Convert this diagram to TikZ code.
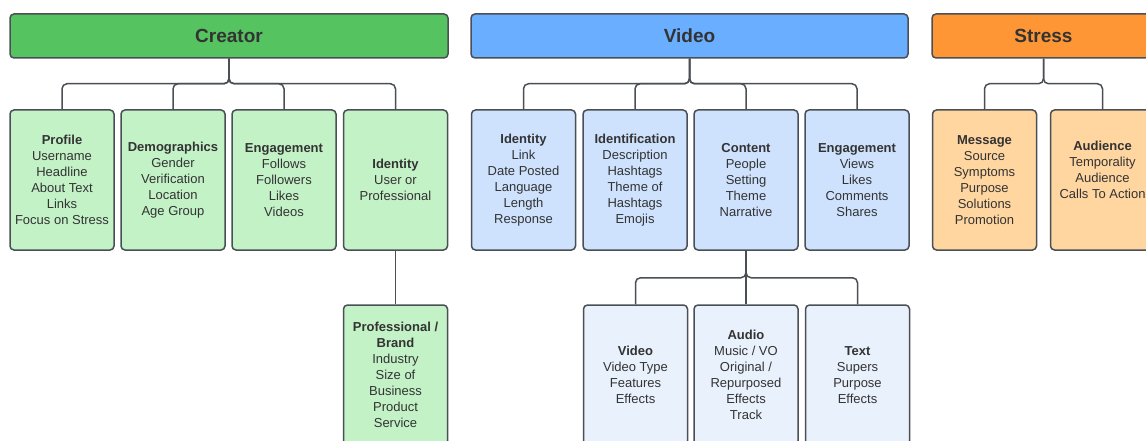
\documentclass[tikz,border=0pt]{standalone}
\usepackage{fontspec}
\setmainfont{Liberation Sans}
\definecolor{edge}{HTML}{4A4F55}
\definecolor{txt}{HTML}{333333}
\definecolor{creatorhdr}{HTML}{55C460}
\definecolor{creatorleaf}{HTML}{C3F2C7}
\definecolor{videohdr}{HTML}{6AAEFF}
\definecolor{videoleaf}{HTML}{CEE2FE}
\definecolor{videosub}{HTML}{E9F1FD}
\definecolor{stresshdr}{HTML}{FF9636}
\definecolor{stressleaf}{HTML}{FFD5A0}
\tikzset{
  base/.style={draw=edge, line width=1.5pt, rounded corners=4pt, text=txt,
    align=center, inner sep=0pt},
  hdr/.style={base, minimum height=44pt, font=\fontsize{19}{23}\selectfont\bfseries},
  leaf/.style={base, minimum width=104pt, minimum height=140pt,
    font=\fontsize{13}{16}\selectfont},
  link/.style={draw=edge, line width=1.5pt, rounded corners=5pt},
}
\begin{document}
\begin{tikzpicture}[x=1pt, y=-1pt]
\useasboundingbox (0,0) rectangle (1146,441);
\clip (0,0) rectangle (1146,441);
\fill[white] (0,0) rectangle (1146,441);

% ---- Creator ----
\node[hdr, fill=creatorhdr, minimum width=438pt] (creator) at (229,36) {Creator};
\node[leaf, fill=creatorleaf] (profile) at (62,180)
  {\textbf{Profile}\\Username\\Headline\\About Text\\Links\\Focus on Stress};
\node[leaf, fill=creatorleaf] (demo) at (173,180)
  {\textbf{Demographics}\\Gender\\Verification\\Location\\Age Group};
\node[leaf, fill=creatorleaf] (ceng) at (284,180)
  {\textbf{Engagement}\\Follows\\Followers\\Likes\\Videos};
\node[leaf, fill=creatorleaf] (cid) at (395.5,180)
  {\textbf{Identity}\\User or\\Professional};
\node[leaf, fill=creatorleaf] (brand) at (395.5,375)
  {\textbf{Professional /}\\\textbf{Brand}\\Industry\\Size of\\Business\\Product\\Service};

\foreach \c in {profile,demo,ceng,cid}
  \draw[link] (creator.south) -- ++(0,25) -| (\c.north);
\draw[link] (cid.south) -- (brand.north);

% ---- Video ----
\node[hdr, fill=videohdr, minimum width=437pt] (video) at (689.5,36) {Video};
\node[leaf, fill=videoleaf] (vid) at (523.5,180)
  {\textbf{Identity}\\Link\\Date Posted\\Language\\Length\\Response};
\node[leaf, fill=videoleaf] (vident) at (635,180)
  {\textbf{Identification}\\Description\\Hashtags\\Theme of\\Hashtags\\Emojis};
\node[leaf, fill=videoleaf] (content) at (746,180)
  {\textbf{Content}\\People\\Setting\\Theme\\Narrative};
\node[leaf, fill=videoleaf] (veng) at (857,180)
  {\textbf{Engagement}\\Views\\Likes\\Comments\\Shares};

\node[leaf, fill=videosub] (vvideo) at (635.5,375)
  {\textbf{Video}\\Video Type\\Features\\Effects};
\node[leaf, fill=videosub] (audio) at (746,375)
  {\textbf{Audio}\\Music / VO\\Original /\\Repurposed\\Effects\\Track};
\node[leaf, fill=videosub] (vtext) at (857.5,375)
  {\textbf{Text}\\Supers\\Purpose\\Effects};

\foreach \c in {vid,vident,content,veng}
  \draw[link] (video.south) -- ++(0,25) -| (\c.north);
\foreach \c in {vvideo,vtext}
  \draw[link] (content.south) -- ++(0,27) -| (\c.north);
\draw[link] (content.south) -- (audio.north);

% ---- Stress ----
\node[hdr, fill=stresshdr, minimum width=223pt] (stress) at (1043.5,36) {Stress};
\node[leaf, fill=stressleaf] (message) at (984.5,180)
  {\textbf{Message}\\Source\\Symptoms\\Purpose\\Solutions\\Promotion};
\node[leaf, fill=stressleaf] (audience) at (1102.5,180)
  {\textbf{Audience}\\Temporality\\Audience\\Calls To Action\\\strut};

\foreach \c in {message,audience}
  \draw[link] (stress.south) -- ++(0,25) -| (\c.north);
\end{tikzpicture}
\end{document}
